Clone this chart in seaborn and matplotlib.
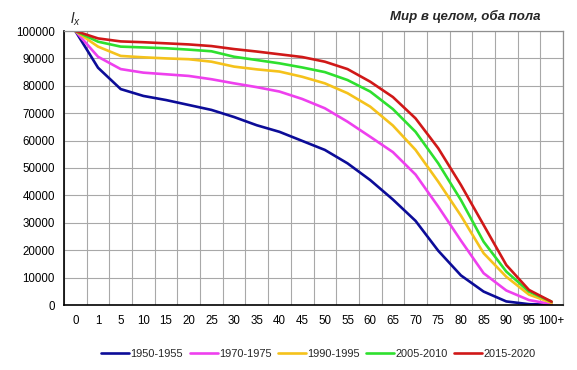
import numpy as np
import pandas as pd
import matplotlib
matplotlib.use("Agg")
import matplotlib.pyplot as plt
import seaborn as sns

ages = ["0", "1", "5", "10", "15", "20", "25", "30", "35", "40", "45", "50",
        "55", "60", "65", "70", "75", "80", "85", "90", "95", "100+"]

lx_1950 = [100000, 86600, 78800, 76300, 74800, 73000, 71200, 68600, 65600, 63200, 59900,
           56600, 51700, 45600, 38500, 30700, 19800, 10800, 4900, 1300, 300, 100]
lx_1970 = [100000, 90600, 86100, 84800, 84200, 83600, 82400, 80900, 79500, 77900, 75200,
           71800, 66900, 61400, 55800, 47600, 35900, 23500, 11600, 5300, 1800, 300]
lx_1990 = [100000, 94300, 90900, 90400, 90000, 89700, 88800, 87000, 86000, 85200, 83300,
           80900, 77300, 72400, 65500, 56600, 45000, 32600, 18900, 10300, 3800, 800]
lx_2005 = [100000, 96100, 94300, 94000, 93700, 93200, 92600, 90600, 89400, 88200, 86700,
           85000, 82100, 77900, 71500, 63200, 51700, 38300, 23100, 12200, 4900, 1200]
lx_2015 = [100000, 97300, 96200, 95900, 95500, 95100, 94500, 93400, 92500, 91500, 90500,
           88800, 86100, 81500, 75900, 68100, 57200, 43800, 29200, 14600, 5500, 1200]

periods = ["1950-1955", "1970-1975", "1990-1995", "2005-2010", "2015-2020"]
series = [lx_1950, lx_1970, lx_1990, lx_2005, lx_2015]
colors = ["#0c0c98", "#ee40ee", "#f5c21b", "#2ee02e", "#d01818"]

rows = []
for p, vals in zip(periods, series):
    for i, (a, v) in enumerate(zip(ages, vals)):
        rows.append({"pos": i, "age": a, "lx": v, "period": p})
df = pd.DataFrame(rows)

sns.set_theme(style="white")
plt.rcParams["font.family"] = ["Liberation Sans", "DejaVu Sans"]
plt.rcParams["mathtext.fontset"] = "custom"
plt.rcParams["mathtext.it"] = "Liberation Sans:italic"
plt.rcParams["mathtext.rm"] = "Liberation Sans"

fig = plt.figure(figsize=(5.77, 3.70), dpi=100)
ax = fig.add_axes([64 / 577, 1 - 305 / 370, (563 - 64) / 577, (305 - 31) / 370])

sns.lineplot(data=df, x="pos", y="lx", hue="period", palette=colors,
             linewidth=1.9, ax=ax, legend=True)

ax.set_xlim(-0.5, len(ages) - 0.5)
ax.set_ylim(0, 100000)
ax.set_xticks(range(len(ages)))
ax.set_xticklabels(ages)
ax.set_xticks(np.arange(-0.5, len(ages), 1.0), minor=True)
ax.set_yticks(np.arange(0, 100001, 10000))
ax.set_yticklabels([str(v) for v in range(0, 100001, 10000)])
ax.grid(False)
ax.grid(True, which="minor", axis="x", color="#a8a8a8", linewidth=0.8)
ax.grid(True, which="major", axis="y", color="#a8a8a8", linewidth=0.8)
ax.set_axisbelow(True)
ax.tick_params(axis="both", which="both", length=0, labelsize=8.3, colors="black")
ax.tick_params(axis="x", pad=7.5)
ax.tick_params(axis="y", pad=6.5)
ax.set_xlabel("")
ax.set_ylabel("")

for s in ["left", "bottom"]:
    ax.spines[s].set_color("black")
    ax.spines[s].set_linewidth(1.2)
for s in ["top", "right"]:
    ax.spines[s].set_color("#909090")
    ax.spines[s].set_linewidth(0.9)

handles, labels = ax.get_legend_handles_labels()
ax.get_legend().remove()
fig.legend(handles, labels, loc="center", bbox_to_anchor=(318.5 / 577, 1 - 354 / 370),
           ncol=5, frameon=False, fontsize=7.9, handlelength=2.55, handletextpad=0.1,
           columnspacing=0.6, borderpad=0, borderaxespad=0)

fig.text(540 / 577, 1 - 16 / 370, "Мир в целом, оба пола", ha="right", va="center",
         fontsize=9.5, fontweight="bold", fontstyle="italic")
fig.text(70 / 577, 1 - 19 / 370, "$l_x$", ha="left", va="center", fontsize=10.5)

fig.savefig("out.png", dpi=100)
